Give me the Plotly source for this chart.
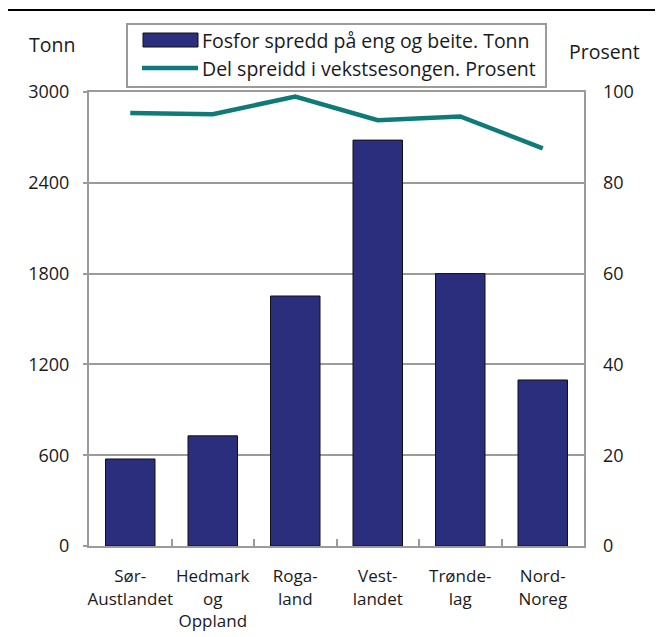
import plotly.graph_objects as go

categories = ["Sør-<br>Austlandet", "Hedmark<br>og<br>Oppland", "Roga-<br>land", "Vest-<br>landet", "Trønde-<br>lag", "Nord-<br>Noreg"]
fosfor_tonn = [575, 728, 1652, 2682, 1800, 1097]
del_prosent = [95.4, 95.1, 99.0, 93.8, 94.6, 87.6]
left_ticks = [0, 600, 1200, 1800, 2400, 3000]
right_ticks = [0, 20, 40, 60, 80, 100]
legend_labels = ["Fosfor spredd på eng og beite. Tonn", "Del spreidd i vekstsesongen. Prosent"]

FONT = "Open Sans"
GRID = "#9b9b9b"
BAR = "#2a2e7c"
LINE = "#0f7b78"

OFF = 8  # default body margin of the html page
FW, FH = 663 - OFF, 637 - OFF
# plot area in page pixels
L, R, T, B = 89, 584, 92, 546
W, H = R - L, B - T


def px(xp):
    return (xp - L) / W


def py(yp):
    return (B - yp) / H


fig = go.Figure()
fig.add_trace(go.Bar(
    x=categories, y=fosfor_tonn, name=legend_labels[0],
    marker=dict(color=BAR, line=dict(color="#111111", width=1)),
    yaxis="y",
))
fig.add_trace(go.Scatter(
    x=categories, y=del_prosent, name=legend_labels[1],
    mode="lines", line=dict(color=LINE, width=4.5),
    yaxis="y2",
))

fig.update_layout(
    width=FW, height=FH,
    margin=dict(l=L - OFF, r=FW - (R - OFF), t=T - OFF, b=FH - (B - OFF)),
    paper_bgcolor="white", plot_bgcolor="white",
    font=dict(family=FONT, size=18, color="#1a1a1a"),
    bargap=0.4,
    showlegend=False,
    xaxis=dict(
        showline=True, linecolor=GRID, linewidth=2, mirror=True,
        ticks="inside", tickson="boundaries", ticklen=7, tickcolor=GRID, tickwidth=2,
        showgrid=False, ticklabelstandoff=14, tickangle=0, automargin=False,
        tickfont=dict(family=FONT, size=17),
    ),
    yaxis=dict(
        range=[0, 3000], tickvals=left_ticks,
        showline=True, linecolor=GRID, linewidth=2, mirror=True,
        ticks="outside", ticklen=4, tickcolor=GRID, tickwidth=2,
        showgrid=True, gridcolor=GRID, gridwidth=2,
        ticklabelstandoff=10, zeroline=False, automargin=False,
    ),
    yaxis2=dict(
        range=[0, 100], tickvals=right_ticks, overlaying="y", side="right",
        showline=False, showgrid=False, ticks="", zeroline=False,
        ticklabelstandoff=18, automargin=False,
    ),
    shapes=[
        dict(type="line", xref="paper", yref="paper",
             x0=px(OFF), x1=px(663), y0=py(10), y1=py(10),
             line=dict(color="black", width=2)),
        # legend box
        dict(type="rect", xref="paper", yref="paper",
             x0=px(127), x1=px(546), y0=py(87), y1=py(24),
             line=dict(color=GRID, width=2), fillcolor="white"),
        dict(type="rect", xref="paper", yref="paper",
             x0=px(143), x1=px(198), y0=py(47), y1=py(33),
             line=dict(color="#111111", width=1), fillcolor=BAR),
        dict(type="line", xref="paper", yref="paper",
             x0=px(142), x1=px(198), y0=py(68), y1=py(68),
             line=dict(color=LINE, width=4.5)),
    ],
    annotations=[
        dict(text="Tonn", xref="paper", yref="paper", x=px(27), y=py(45),
             xanchor="left", yanchor="middle", showarrow=False, font=dict(size=19.5)),
        dict(text="Prosent", xref="paper", yref="paper", x=px(567), y=py(52),
             xanchor="left", yanchor="middle", showarrow=False, font=dict(size=19.5)),
        dict(text=legend_labels[0], xref="paper", yref="paper", x=px(200), y=py(40),
             xanchor="left", yanchor="middle", showarrow=False, font=dict(size=19.5)),
        dict(text=legend_labels[1], xref="paper", yref="paper", x=px(200), y=py(68),
             xanchor="left", yanchor="middle", showarrow=False, font=dict(size=19.5)),
    ],
)

fig.write_html("out.html")
